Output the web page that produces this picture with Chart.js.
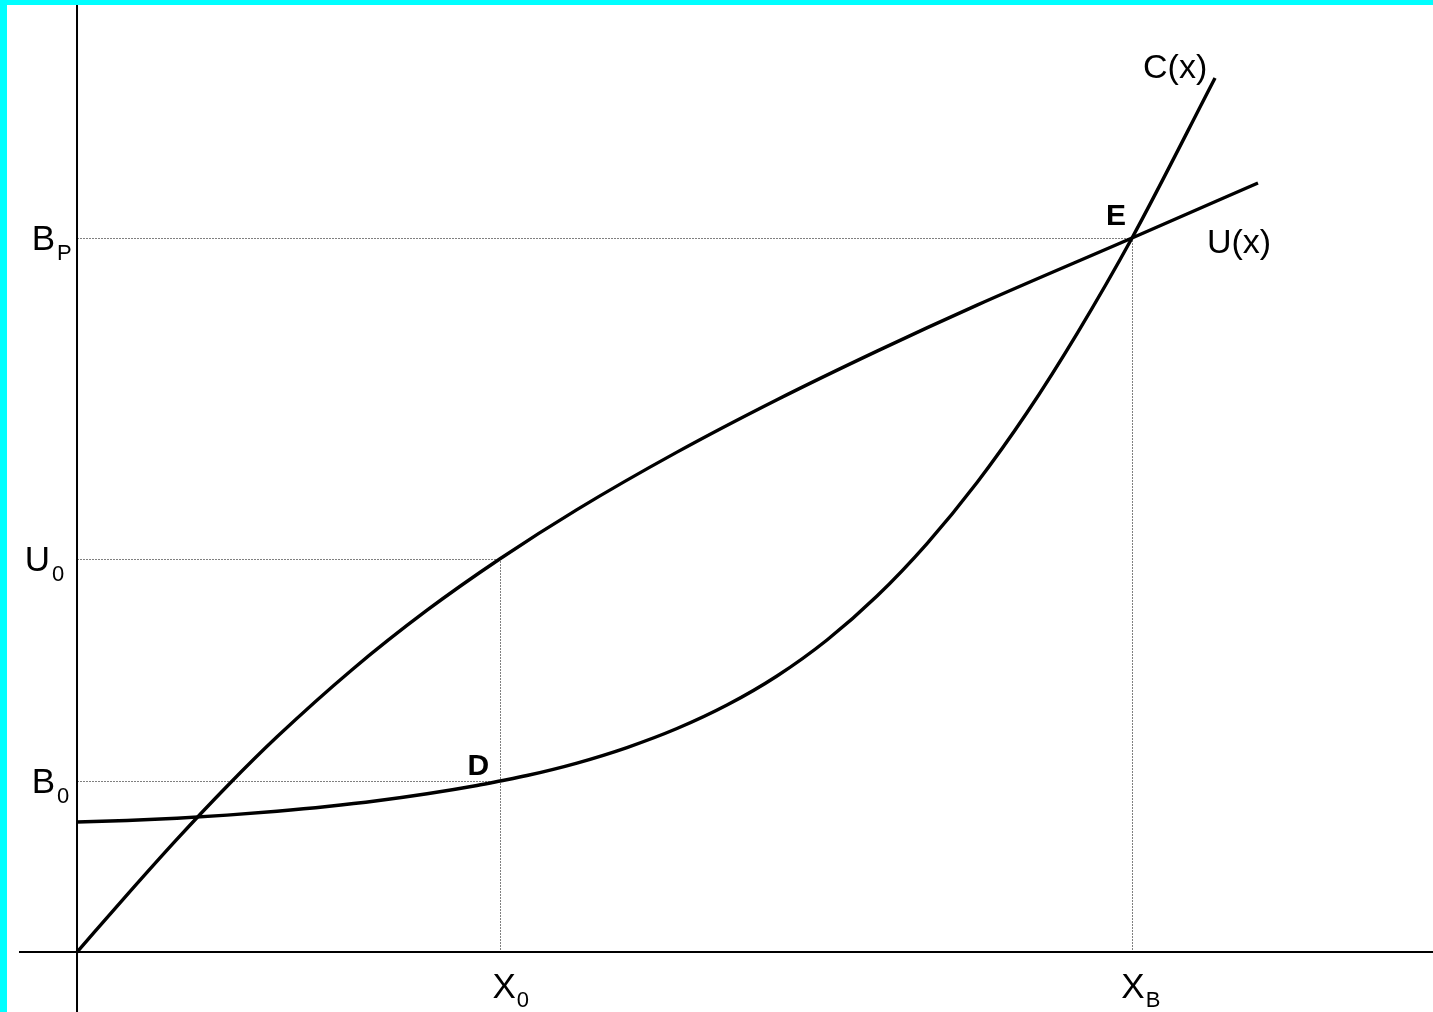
<!DOCTYPE html>
<html>
<head>
<meta charset="utf-8">
<script src="https://cdn.jsdelivr.net/npm/chart.js@4.4.1/dist/chart.umd.min.js"></script>
<style>
  html, body { margin: 0; padding: 0; background: #00ffff; }
  canvas { display: block; }
</style>
</head>
<body>
<canvas id="grafica" width="1433" height="1012"></canvas>
<script>
// Curva U(x) (cóncava)
const uX = [0, 0.474, 0.948, 1.422, 1.896, 2.607, 3.318, 4.010, 4.739, 5.687, 6.635, 7.583, 8.531, 10, 11.194];
const uY = [0, 0.801, 1.581, 2.322, 3.014, 3.954, 4.787, 5.508, 6.196, 7.001, 7.735, 8.416, 9.060, 10, 10.77];

// Curva C(x) (convexa)
const cX = [0, 0.474, 0.948, 1.422, 1.896, 2.370, 2.844, 3.318, 3.791, 4.010, 4.265, 4.739, 5.213, 5.687,
            6.161, 6.635, 7.109, 7.583, 8.057, 8.531, 9.005, 9.479, 10, 10.787];
const cY = [1.821, 1.842, 1.874, 1.917, 1.972, 2.038, 2.118, 2.216, 2.332, 2.395, 2.472, 2.647, 2.864, 3.130,
            3.459, 3.866, 4.370, 4.986, 5.721, 6.576, 7.556, 8.662, 10, 12.241];

// Valores marcados en los ejes
const X0 = 4.01, XB = 10;
const B0 = 2.395, U0 = 5.508, BP = 10;
const xTicks = [X0, XB];
const xTickLabels = [['X', '0'], ['X', 'B']];
const yTicks = [BP, U0, B0];
const yTickLabels = [['B', 'P'], ['U', '0'], ['B', '0']];

const toPoints = (xs, ys) => xs.map((x, i) => ({ x: x, y: ys[i] }));

const FONT = '"Liberation Sans", Arial, sans-serif';

const dibujo = {
  id: 'dibujo',
  beforeDraw(chart) {
    const ctx = chart.ctx;
    ctx.save();
    ctx.fillStyle = '#00ffff';
    ctx.fillRect(0, 0, chart.width, chart.height);
    ctx.fillStyle = '#ffffff';
    ctx.fillRect(7, 5, chart.width - 7, chart.height - 5);
    ctx.restore();
  },
  beforeDatasetsDraw(chart) {
    const ctx = chart.ctx;
    const sx = chart.scales.x, sy = chart.scales.y;
    const px = v => sx.getPixelForValue(v);
    const py = v => sy.getPixelForValue(v);
    ctx.save();
    // líneas punteadas de guía
    ctx.strokeStyle = '#000';
    ctx.lineWidth = 1;
    ctx.setLineDash([1, 2]);
    const guias = [
      [0, BP, XB, BP], [0, U0, X0, U0], [0, B0, X0, B0],
      [X0, 0, X0, U0], [XB, 0, XB, BP]
    ];
    guias.forEach(g => {
      ctx.beginPath();
      ctx.moveTo(Math.round(px(g[0])) + 0.5, Math.round(py(g[1])) + 0.5);
      ctx.lineTo(Math.round(px(g[2])) + 0.5, Math.round(py(g[3])) + 0.5);
      ctx.stroke();
    });
    // ejes
    ctx.setLineDash([]);
    ctx.lineWidth = 2;
    ctx.beginPath();
    ctx.moveTo(px(0), 5);
    ctx.lineTo(px(0), chart.height);
    ctx.moveTo(px(-0.55), py(0));
    ctx.lineTo(chart.width, py(0));
    ctx.stroke();
    ctx.restore();
  },
  afterDatasetsDraw(chart) {
    const ctx = chart.ctx;
    const sx = chart.scales.x, sy = chart.scales.y;
    const px = v => sx.getPixelForValue(v);
    const py = v => sy.getPixelForValue(v);
    ctx.save();
    ctx.fillStyle = '#000';
    ctx.textBaseline = 'alphabetic';

    // etiquetas del eje Y
    yTicks.forEach((v, i) => {
      const [main, sub] = yTickLabels[i];
      const y = py(v) + 12;
      ctx.font = '35px ' + FONT;
      ctx.textAlign = 'right';
      const right = px(0) - (main === 'U' ? 27 : 22);
      ctx.fillText(main, right, y);
      ctx.font = '22px ' + FONT;
      ctx.textAlign = 'left';
      ctx.fillText(sub, right + 2, y + 10);
    });

    // etiquetas del eje X
    xTicks.forEach((v, i) => {
      const [main, sub] = xTickLabels[i];
      const y = py(0) + 46;
      ctx.font = '35px ' + FONT;
      ctx.textAlign = 'center';
      const cx = px(v) + (i === 0 ? 4 : 1);
      ctx.fillText(main, cx, y);
      const w = ctx.measureText(main).width;
      ctx.font = '22px ' + FONT;
      ctx.textAlign = 'left';
      ctx.fillText(sub, cx + w / 2 + 1, y + 9);
    });

    // nombres de curvas
    ctx.font = '34px ' + FONT;
    ctx.textAlign = 'left';
    ctx.fillText('C(x)', px(cX[cX.length - 1]) - 72, py(cY[cY.length - 1]) + 0);
    ctx.fillText('U(x)', px(uX[uX.length - 1]) - 51, py(BP) + 15);

    // puntos D y E
    ctx.font = 'bold 30px ' + FONT;
    ctx.textAlign = 'right';
    ctx.fillText('D', px(X0) - 11, py(B0) - 6);
    ctx.fillText('E', px(XB) - 6, py(BP) - 13);
    ctx.restore();
  }
};

new Chart(document.getElementById('grafica'), {
  type: 'line',
  data: {
    datasets: [
      {
        label: 'U(x)',
        data: toPoints(uX, uY),
        borderColor: '#000',
        borderWidth: 3.4,
        pointRadius: 0,
        fill: false,
        cubicInterpolationMode: 'monotone'
      },
      {
        label: 'C(x)',
        data: toPoints(cX, cY),
        borderColor: '#000',
        borderWidth: 3.4,
        pointRadius: 0,
        fill: false,
        cubicInterpolationMode: 'monotone'
      }
    ]
  },
  options: {
    responsive: false,
    animation: false,
    devicePixelRatio: 1,
    layout: { padding: 0 },
    plugins: {
      legend: { display: false },
      tooltip: { enabled: false }
    },
    scales: {
      x: { type: 'linear', min: -0.73, max: 12.853, display: false },
      y: { type: 'linear', min: -0.84, max: 13.333, display: false }
    }
  },
  plugins: [dibujo]
});
</script>
</body>
</html>
